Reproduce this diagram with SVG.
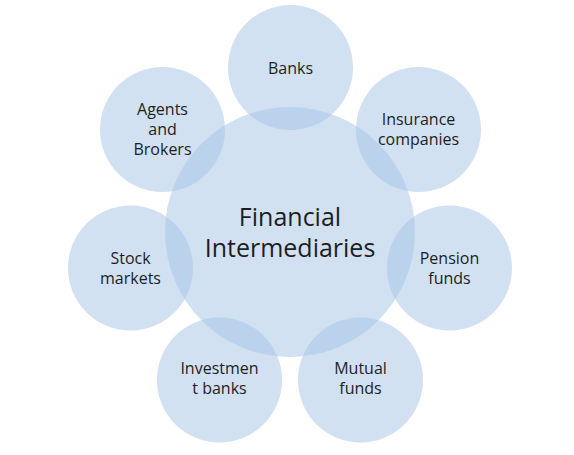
<svg xmlns="http://www.w3.org/2000/svg" width="574" height="455" viewBox="0 0 574 455">
<style>
.c{fill:#a3c4e6;fill-opacity:0.5}
.t{font-family:"Open Sans","Liberation Sans",sans-serif;font-size:16px;fill:#1e1e1e;text-anchor:middle}
.m{font-family:"Open Sans","Liberation Sans",sans-serif;font-size:25px;fill:#1e1e1e;text-anchor:middle}
</style>
<rect width="574" height="455" fill="#fff"/>
<g id="connectors"></g>
<g id="center"><circle class="c" cx="290" cy="232" r="125"/><text class="m" x="290" y="226">Financial</text><text class="m" x="290" y="257">Intermediaries</text></g>
<g id="banks"><circle class="c" cx="290.5" cy="67.5" r="62.5"/><text class="t" x="290.5" y="74">Banks</text></g>
<g id="insurance"><circle class="c" cx="418.5" cy="129.5" r="62.5"/><text class="t" x="418.5" y="125">Insurance</text><text class="t" x="418.5" y="145">companies</text></g>
<g id="pension"><circle class="c" cx="449.5" cy="268" r="62.5"/><text class="t" x="449.5" y="264">Pension</text><text class="t" x="449.5" y="284">funds</text></g>
<g id="mutual"><circle class="c" cx="360.5" cy="380" r="62.5"/><text class="t" x="360.5" y="374">Mutual</text><text class="t" x="360.5" y="394">funds</text></g>
<g id="investment"><circle class="c" cx="219.5" cy="380" r="62.5"/><text class="t" x="219.5" y="374">Investmen</text><text class="t" x="219.5" y="394">t banks</text></g>
<g id="stock"><circle class="c" cx="130.5" cy="268" r="62.5"/><text class="t" x="130.5" y="264">Stock</text><text class="t" x="130.5" y="284">markets</text></g>
<g id="agents"><circle class="c" cx="162.5" cy="129.5" r="62.5"/><text class="t" x="162.5" y="115">Agents</text><text class="t" x="162.5" y="135">and</text><text class="t" x="162.5" y="155">Brokers</text></g>
</svg>
